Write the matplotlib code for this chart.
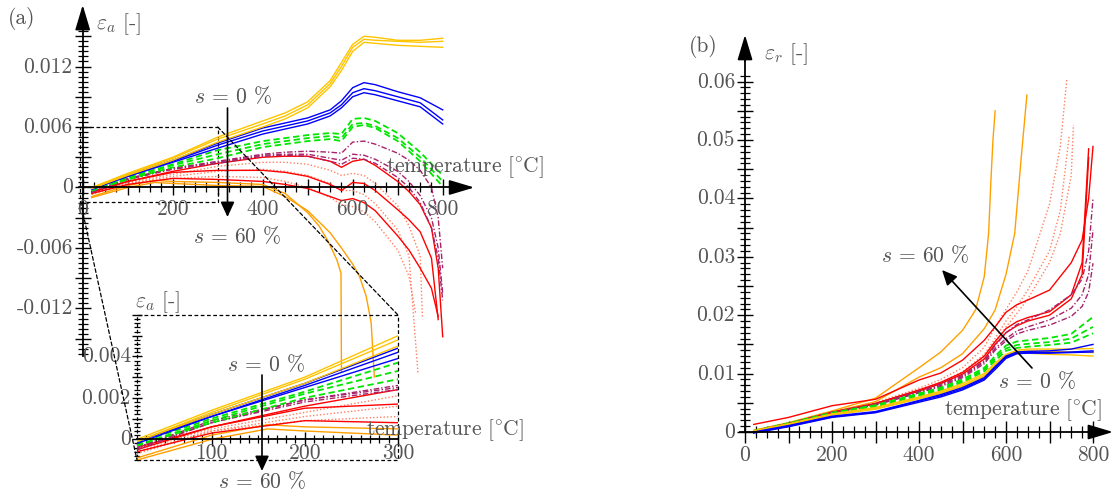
import numpy as np
import matplotlib
matplotlib.use("Agg")
import matplotlib.pyplot as plt
from matplotlib.patches import Rectangle, ConnectionPatch
from matplotlib.ticker import FixedLocator

plt.rcParams['font.family'] = ['cmr10', 'DejaVu Serif']
plt.rcParams['mathtext.fontset'] = 'cm'
plt.rcParams['axes.unicode_minus'] = False
plt.rcParams['axes.formatter.use_mathtext'] = True

# ---------------- data: panel (a) axial strain ----------------
T_A = [20, 100, 200, 300, 400, 450, 500, 550, 575, 600, 625, 650, 700, 750, 800]
gold_a1 = [0.0000, 0.0014, 0.0030, 0.0050, 0.0066, 0.0074, 0.0085, 0.0106, 0.0124, 0.0142, 0.0150, 0.0149, 0.0146, 0.0146, 0.0148]
gold_a2 = [-0.0001, 0.0013, 0.0029, 0.0048, 0.0063, 0.0071, 0.0082, 0.0103, 0.0120, 0.0139, 0.0147, 0.0146, 0.0145, 0.0144, 0.0145]
gold_a3 = [-0.0001, 0.0012, 0.0027, 0.0045, 0.0060, 0.0068, 0.0079, 0.0100, 0.0116, 0.0135, 0.0144, 0.0143, 0.0141, 0.0140, 0.0139]
blue_a1 = [-0.0001, 0.0012, 0.0027, 0.0044, 0.0059, 0.0064, 0.0069, 0.0077, 0.0086, 0.0099, 0.0104, 0.0102, 0.0095, 0.0089, 0.0077]
blue_a2 = [-0.0001, 0.0011, 0.0026, 0.0042, 0.0056, 0.0061, 0.0066, 0.0074, 0.0082, 0.0094, 0.0098, 0.0096, 0.0090, 0.0084, 0.0067]
blue_a3 = [-0.0002, 0.0011, 0.0025, 0.0039, 0.0053, 0.0058, 0.0063, 0.0071, 0.0079, 0.0090, 0.0094, 0.0092, 0.0086, 0.0080, 0.0063]
green_a1 = [-0.0002, 0.0010, 0.0023, 0.0037, 0.0046, 0.0049, 0.0052, 0.0054, 0.0053, 0.0068, 0.0069, 0.0066, 0.0054, 0.0035, 0.0012]
green_a2 = [-0.0003, 0.0009, 0.0022, 0.0033, 0.0043, 0.0046, 0.0049, 0.0051, 0.0049, 0.0063, 0.0064, 0.0061, 0.0049, 0.0030, 0.0006]
green_a3 = [-0.0003, 0.0008, 0.0020, 0.0029, 0.0040, 0.0043, 0.0046, 0.0048, 0.0046, 0.0060, 0.0062, 0.0059, 0.0046, 0.0026, 0.0001]

T_A2 = [20, 100, 200, 300, 400, 450, 500, 550, 575, 600, 625, 650, 700, 725, 750, 775, 790, 800]
purple_a1 = [-0.0004, 0.0009, 0.0019, 0.0026, 0.0033, 0.0035, 0.0036, 0.0035, 0.0034, 0.0045, 0.0046, 0.0043, 0.0034, 0.0027, 0.0017, 0.0000, -0.0030, -0.0080]
purple_a2 = [-0.0004, 0.0008, 0.0019, 0.0025, 0.0032, 0.0033, 0.0033, 0.0029, 0.0027, 0.0033, 0.0032, 0.0028, 0.0016, 0.0006, -0.0008, -0.0030, -0.0060, -0.0105]
purple_a3 = [-0.0005, 0.0008, 0.0018, 0.0024, 0.0031, 0.0032, 0.0031, 0.0026, 0.0023, 0.0029, 0.0028, 0.0024, 0.0010, 0.0000, -0.0015, -0.0040, -0.0070, -0.0112]
red_a1 = [-0.0004, 0.0006, 0.0016, 0.0024, 0.0030, 0.0031, 0.0031, 0.0026, 0.0020, 0.0026, 0.0028, 0.0022, 0.0006, -0.0004, -0.0017, -0.0040, -0.0080, -0.0148]
red_a2 = [-0.0005, 0.0006, 0.0015, 0.0017, 0.0017, 0.0015, 0.0011, 0.0003, -0.0003, 0.0005, 0.0004, -0.0003, -0.0022, -0.0032, -0.0044, -0.0070, -0.0131]
red_a3 = [-0.0006, 0.0003, 0.0009, 0.0008, 0.0006, 0.0003, -0.0001, -0.0009, -0.0013, -0.0011, -0.0015, -0.0023, -0.0048, -0.0062, -0.0080, -0.0100, -0.0128]

T_sal1 = [20, 100, 200, 300, 400, 450, 500, 550, 575, 600, 625, 650, 700, 725, 750, 755]
T_sal2 = [20, 100, 200, 300, 400, 450, 500, 550, 575, 600, 625, 650, 700, 725, 740]
T_sal3 = [20, 100, 200, 300, 400, 450, 500, 550, 575, 600, 625, 650, 700, 725, 745]
salmon_a1 = [-0.0005, 0.0005, 0.0013, 0.0021, 0.0025, 0.0025, 0.0023, 0.0017, 0.0012, 0.0014, 0.0012, 0.0004, -0.0018, -0.0038, -0.0068, -0.0129]
salmon_a2 = [-0.0006, 0.0004, 0.0009, 0.0011, 0.0010, 0.0006, 0.0000, -0.0010, -0.0017, -0.0019, -0.0024, -0.0034, -0.0062, -0.0088, -0.0125]
salmon_a3 = [-0.0007, 0.0004, 0.0011, 0.0016, 0.0018, 0.0016, 0.0012, 0.0004, -0.0003, -0.0003, -0.0007, -0.0016, -0.0042, -0.0068, -0.0184]

T_or_a1 = [20, 100, 160, 200, 300, 400, 450, 500, 525, 545, 565, 574, 575]
orange_a1 = [-0.0009, 0.0002, 0.0007, 0.0006, 0.0005, 0.0003, -0.0006, -0.0025, -0.0038, -0.0053, -0.0072, -0.0085, -0.0183]
T_or_a2 = [20, 100, 160, 200, 300, 400, 450, 500, 550, 575, 600, 615, 630, 641, 648]
orange_a2 = [-0.0010, 0.0000, 0.0005, 0.0004, 0.0002, 0.0001, -0.0009, -0.0023, -0.0045, -0.0060, -0.0076, -0.0088, -0.0108, -0.0134, -0.0188]

# ---------------- data: panel (b) radial strain ----------------
T_B = [20, 100, 200, 300, 400, 450, 500, 550, 575, 600, 625, 650, 700, 750, 800]
gold_b1 = [0.0002, 0.0014, 0.0031, 0.0042, 0.0060, 0.0070, 0.0083, 0.0100, 0.0118, 0.0133, 0.0140, 0.0142, 0.0142, 0.0142, 0.0143]
gold_b2 = [0.0001, 0.0013, 0.0030, 0.0040, 0.0058, 0.0068, 0.0080, 0.0097, 0.0115, 0.0131, 0.0138, 0.0139, 0.0138, 0.0137, 0.0136]
gold_b3 = [0.0000, 0.0012, 0.0029, 0.0039, 0.0057, 0.0066, 0.0078, 0.0095, 0.0112, 0.0129, 0.0136, 0.0135, 0.0133, 0.0132, 0.0130]
blue_b1 = [0.0000, 0.0011, 0.0027, 0.0035, 0.0054, 0.0064, 0.0076, 0.0093, 0.0112, 0.0130, 0.0137, 0.0138, 0.0139, 0.0142, 0.0150]
blue_b2 = [-0.0001, 0.0010, 0.0026, 0.0034, 0.0053, 0.0062, 0.0074, 0.0091, 0.0110, 0.0128, 0.0135, 0.0136, 0.0136, 0.0137, 0.0139]
blue_b3 = [-0.0002, 0.0009, 0.0025, 0.0033, 0.0051, 0.0060, 0.0072, 0.0089, 0.0107, 0.0126, 0.0134, 0.0135, 0.0135, 0.0136, 0.0137]
green_b1 = [0.0002, 0.0015, 0.0033, 0.0046, 0.0066, 0.0076, 0.0090, 0.0110, 0.0130, 0.0148, 0.0155, 0.0157, 0.0161, 0.0168, 0.0197]
green_b2 = [0.0001, 0.0014, 0.0032, 0.0045, 0.0064, 0.0074, 0.0087, 0.0107, 0.0126, 0.0143, 0.0149, 0.0151, 0.0154, 0.0160, 0.0180]
green_b3 = [0.0000, 0.0013, 0.0031, 0.0043, 0.0062, 0.0072, 0.0085, 0.0104, 0.0122, 0.0139, 0.0144, 0.0146, 0.0149, 0.0153, 0.0169]

T_B2 = [20, 100, 200, 300, 400, 450, 500, 550, 575, 600, 625, 650, 700, 750, 775, 790, 800]
purple_b1 = [0.0002, 0.0015, 0.0034, 0.0048, 0.0070, 0.0082, 0.0097, 0.0122, 0.0148, 0.0170, 0.0184, 0.0192, 0.0209, 0.0235, 0.0262, 0.0310, 0.0400]
purple_b2 = [0.0001, 0.0014, 0.0033, 0.0047, 0.0068, 0.0080, 0.0095, 0.0120, 0.0143, 0.0160, 0.0173, 0.0180, 0.0192, 0.0212, 0.0235, 0.0270, 0.0346]
purple_b3 = [0.0000, 0.0013, 0.0032, 0.0046, 0.0067, 0.0078, 0.0093, 0.0117, 0.0140, 0.0156, 0.0168, 0.0174, 0.0183, 0.0198, 0.0215, 0.0240, 0.0289]
red_b1 = [0.0013, 0.0025, 0.0045, 0.0056, 0.0089, 0.0101, 0.0123, 0.0157, 0.0180, 0.0205, 0.0218, 0.0226, 0.0243, 0.0290, 0.0329, 0.0400, 0.0489]
red_b2 = [0.0001, 0.0014, 0.0034, 0.0049, 0.0072, 0.0085, 0.0102, 0.0130, 0.0155, 0.0177, 0.0189, 0.0196, 0.0206, 0.0235, 0.0290, 0.0485]
red_b3 = [0.0000, 0.0013, 0.0033, 0.0048, 0.0070, 0.0083, 0.0099, 0.0125, 0.0150, 0.0170, 0.0182, 0.0190, 0.0200, 0.0228, 0.0270, 0.0470]
salmon_b1 = [0.0000, 0.0013, 0.0032, 0.0048, 0.0070, 0.0083, 0.0100, 0.0128, 0.0152, 0.0180, 0.0203, 0.0228, 0.0290, 0.0340, 0.0440, 0.0526]
salmon_b2 = [0.0001, 0.0014, 0.0034, 0.0050, 0.0075, 0.0090, 0.0110, 0.0145, 0.0180, 0.0210, 0.0240, 0.0275, 0.0390, 0.0490, 0.0606]
salmon_b3 = [0.0001, 0.0014, 0.0033, 0.0049, 0.0072, 0.0085, 0.0103, 0.0133, 0.0160, 0.0190, 0.0215, 0.0243, 0.0310, 0.0380, 0.0506]
T_or_b1 = [20, 100, 200, 300, 400, 450, 500, 530, 550, 560, 565, 570, 575]
orange_b1 = [0.0003, 0.0016, 0.0036, 0.0058, 0.0110, 0.0137, 0.0174, 0.0209, 0.0266, 0.0340, 0.0426, 0.0500, 0.0550]
T_or_b2 = [20, 100, 200, 300, 400, 450, 500, 550, 575, 600, 620, 635, 648]
orange_b2 = [0.0002, 0.0015, 0.0034, 0.0052, 0.0094, 0.0110, 0.0134, 0.0177, 0.0209, 0.0270, 0.0340, 0.0470, 0.0577]

# tick labels
xlab_main = ['0', '200', '400', '600', '800']
ylab_a = ['0.012', '0.006', '0', '-0.006', '-0.012']
ylab_in = ['0', '0.002', '0.004']
xlab_in = ['100', '200', '300']
ylab_b = ['0', '0.01', '0.02', '0.03', '0.04', '0.05', '0.06']

# ---------------- styles ----------------
STY = {
    'gold':   dict(color='#FFC400', ls='-', lw=1.0),
    'orange': dict(color='#FFA000', ls='-', lw=1.0),
    'blue':   dict(color='#0000FF', ls='-', lw=1.0),
    'green':  dict(color='#00E600', ls=(0, (3.5, 2.0)), lw=1.3),
    'purple': dict(color='#A8226B', ls=(0, (4, 1.5, 1, 1.5)), lw=1.0),
    'red':    dict(color='#FF0000', ls='-', lw=1.0),
    'salmon': dict(color='#FF8060', ls=(0, (1, 1.5)), lw=1.0),
}

curves_a = [
    ('salmon', T_sal1, salmon_a1), ('salmon', T_sal2, salmon_a2), ('salmon', T_sal3, salmon_a3),
    ('orange', T_or_a1, orange_a1), ('orange', T_or_a2, orange_a2),
    ('red', T_A2, red_a1), ('red', T_A2[:17], red_a2), ('red', T_A2[:17], red_a3),
    ('purple', T_A2, purple_a1), ('purple', T_A2, purple_a2), ('purple', T_A2, purple_a3),
    ('green', T_A, green_a1), ('green', T_A, green_a2), ('green', T_A, green_a3),
    ('blue', T_A, blue_a1), ('blue', T_A, blue_a2), ('blue', T_A, blue_a3),
    ('gold', T_A, gold_a1), ('gold', T_A, gold_a2), ('gold', T_A, gold_a3),
]
curves_b = [
    ('salmon', T_sal1, salmon_b1), ('salmon', T_sal2, salmon_b2), ('salmon', T_sal3, salmon_b3),
    ('orange', T_or_b1, orange_b1), ('orange', T_or_b2, orange_b2),
    ('red', T_B2, red_b1), ('red', T_B2[:16], red_b2), ('red', T_B2[:16], red_b3),
    ('purple', T_B2, purple_b1), ('purple', T_B2, purple_b2), ('purple', T_B2, purple_b3),
    ('green', T_B, green_b1), ('green', T_B, green_b2), ('green', T_B, green_b3),
    ('gold', T_B, gold_b1), ('gold', T_B, gold_b2), ('gold', T_B, gold_b3),
    ('blue', T_B, blue_b1), ('blue', T_B, blue_b2), ('blue', T_B, blue_b3),
]

W, H = 1115, 491
TXT = '#555555'
FS = 15.5
TLAB = r'$\mathrm{temperature}\ [^{\circ}\mathrm{C}]$'
fig = plt.figure(figsize=(W / 100, H / 100), dpi=100)


def box(l, r, t, b):
    return fig.add_axes([l / W, 1 - b / H, (r - l) / W, (b - t) / H])


def fp(x, y):
    return (x / W, 1 - y / H)


def ftext(x, y, s, ha='center', va='center', size=FS):
    fig.text(x / W, 1 - y / H, s, ha=ha, va=va, color=TXT, fontsize=size)


def farrow(x1, y1, x2, y2, hl=0.65, hw=0.3):
    fig.patches.append(matplotlib.patches.FancyArrowPatch(
        fp(x1, y1), fp(x2, y2), transform=fig.transFigure,
        arrowstyle=f'-|>,head_length={hl},head_width={hw}', mutation_scale=14,
        color='k', lw=1.2, shrinkA=0, shrinkB=0))


ARW = dict(arrowstyle='-|>,head_length=1.1,head_width=0.33', mutation_scale=14,
           color='k', lw=1.3, shrinkA=0, shrinkB=0)


def middle_axes(ax, xb, yb, xtip, ytip, xmaj, xmin, ymaj, ymin, lx=(11, 7), ly=(11, 7)):
    for s in ['top', 'right']:
        ax.spines[s].set_visible(False)
    ax.spines['left'].set_position(('data', 0))
    ax.spines['bottom'].set_position(('data', 0))
    ax.spines['left'].set_bounds(*yb)
    ax.spines['bottom'].set_bounds(*xb)
    for s in ['left', 'bottom']:
        ax.spines[s].set_linewidth(1.3)
    ax.patch.set_alpha(0)
    ax.xaxis.set_major_locator(FixedLocator(xmaj))
    ax.xaxis.set_minor_locator(FixedLocator(xmin))
    ax.yaxis.set_major_locator(FixedLocator(ymaj))
    ax.yaxis.set_minor_locator(FixedLocator(ymin))
    ax.tick_params(axis='x', which='major', direction='inout', length=lx[0], width=1.0,
                   labelbottom=False)
    ax.tick_params(axis='x', which='minor', direction='inout', length=lx[1], width=0.9)
    ax.tick_params(axis='y', which='major', direction='inout', length=ly[0], width=1.0,
                   labelleft=False)
    ax.tick_params(axis='y', which='minor', direction='inout', length=ly[1], width=0.9)
    ax.annotate('', xy=(xtip, 0), xytext=(xb[1], 0), arrowprops=ARW, annotation_clip=False)
    ax.annotate('', xy=(0, ytip), xytext=(0, yb[1]), arrowprops=ARW, annotation_clip=False)


def xticklabels(ax, vals, labs, dy, fs=FS):
    for v, l in zip(vals, labs):
        ax.annotate(l, xy=(v, 0), xytext=(0, -dy * 0.72), textcoords='offset points',
                    ha='center', va='top', color=TXT, fontsize=fs, annotation_clip=False)


def yticklabels(ax, x0, vals, labs, dx, fs=FS):
    for v, l in zip(vals, labs):
        ax.annotate(l, xy=(x0, v), xytext=(-dx * 0.72, -6 * 0.72), textcoords='offset points',
                    ha='right', va='baseline', color=TXT, fontsize=fs, annotation_clip=False)


# ---------------- panel (a) ----------------
axa = box(77.3, 474.2, 5.0, 384.1)
axa.set_xlim(-12, 870)
axa.set_ylim(-0.0195, 0.0181)
for key, T, Y in curves_a:
    axa.plot(T, Y, **STY[key])
middle_axes(axa, (-8, 822), (-0.0167, 0.0159), 870, 0.0181,
            np.arange(0, 801, 100), np.arange(25, 801, 25),
            np.arange(-0.015, 0.0151, 0.003), np.arange(-0.0165, 0.0156, 0.0005))
xticklabels(axa, [0, 200, 400, 600, 800], xlab_main, 12)
yticklabels(axa, 0, [0.012, 0.006, 0, -0.006, -0.012], ylab_a, 10)
axa.add_patch(Rectangle((-5, -0.0014), 305, 0.0074, fill=False, ls=(0, (3, 2)), lw=0.9, color='k'))

# inset
axi = box(137, 398, 315, 460)
axi.set_xlim(20, 300)
axi.set_ylim(-0.001, 0.006)
axi.patch.set_alpha(0)
for key, T, Y in curves_a:
    axi.plot(T, Y, **STY[key])
for s in ['top', 'right', 'left']:
    axi.spines[s].set_visible(False)
axi.spines['bottom'].set_position(('data', 0))
axi.spines['bottom'].set_linewidth(1.3)
axi.add_patch(Rectangle((0, 0), 1, 1, transform=axi.transAxes, fill=False,
                        ls=(0, (3, 2)), lw=0.9, color='k', clip_on=False))
axi.xaxis.set_major_locator(FixedLocator([100, 200, 300]))
axi.xaxis.set_minor_locator(FixedLocator(np.arange(30, 300, 10)))
axi.yaxis.set_major_locator(FixedLocator(np.arange(0, 0.0061, 0.001)))
axi.yaxis.set_minor_locator(FixedLocator(np.arange(-0.001, 0.0061, 0.0002)))
axi.tick_params(axis='x', which='major', direction='inout', length=10, width=1.0, labelbottom=False)
axi.tick_params(axis='x', which='minor', direction='inout', length=6, width=0.9)
axi.tick_params(axis='y', which='major', direction='inout', length=7, width=1.0, labelleft=False)
axi.tick_params(axis='y', which='minor', direction='inout', length=5, width=0.9)
xticklabels(axi, [100, 200, 300], xlab_in, 4)
yticklabels(axi, 20, [0, 0.002, 0.004], ylab_in, 6)

for xyA, xyB in [((-5, -0.0014), (20, -0.001)), ((300, 0.006), (300, 0.006))]:
    cp = ConnectionPatch(xyA=xyA, coordsA=axa.transData, xyB=xyB, coordsB=axi.transData,
                         ls=(0, (3, 2)), lw=0.9, color='k')
    fig.add_artist(cp)

ftext(22, 18, '(a)')
ftext(96, 24, r'$\varepsilon_a$ [-]', ha='left')
ftext(386, 167, TLAB, ha='left')
ftext(233, 96, r'$s$ = 0 %')
farrow(227.5, 108, 227.5, 217)
ftext(237, 236, r'$s$ = 60 %')

ftext(135, 302, r'$\varepsilon_a$ [-]', ha='left')
ftext(366, 430, TLAB, ha='left')
ftext(266, 364, r'$s$ = 0 %')
farrow(262, 375, 262, 471)
ftext(262, 481, r'$s$ = 60 %')

# ---------------- panel (b) ----------------
axb = box(739.8, 1114.75, 34.9, 446.6)
axb.set_xlim(-12, 850)
axb.set_ylim(-0.0025, 0.068)
for key, T, Y in curves_b:
    axb.plot(T, Y, **STY[key])
middle_axes(axb, (-12, 797), (0, 0.0635), 846, 0.068,
            np.arange(0, 801, 100), np.arange(25, 801, 25),
            np.arange(0, 0.0601, 0.005), np.arange(0.001, 0.0611, 0.001),
            lx=(16, 9), ly=(11, 7))
xticklabels(axb, [0, 200, 400, 600, 800], xlab_main, 13)
yticklabels(axb, 0, [0, 0.01, 0.02, 0.03, 0.04, 0.05, 0.06], ylab_b, 10)

ftext(703, 46, '(b)')
ftext(764, 54, r'$\varepsilon_r$ [-]', ha='left')
ftext(944, 410, TLAB, ha='left')
ftext(925, 255, r'$s$ = 60 %')
farrow(1032, 368, 942, 270)
ftext(1037, 381, r'$s$ = 0 %')

fig.savefig('out.png', dpi=100)
